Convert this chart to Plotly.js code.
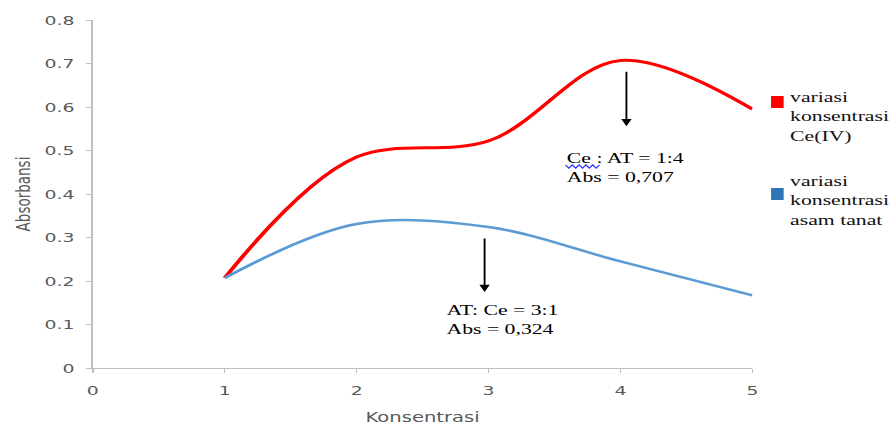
<!DOCTYPE html>
<html>
<head>
<meta charset="utf-8">
<script src="https://cdn.plot.ly/plotly-3.0.1.min.js"></script>
<style>
  html, body { margin: 0; padding: 0; background: #fff; overflow: hidden; }
  #wrap { width: 893px; height: 432px; overflow: hidden; }
  /* chart is laid out narrow and widened horizontally, giving the stretched look */
  #chart { width: 616px; height: 432px; transform: scaleX(1.4497); transform-origin: 0 0; }
</style>
</head>
<body>
<div id="wrap"><div id="chart"></div></div>
<script>
// Absorbance vs. concentration ratio
const konsentrasi = [1, 2, 3, 4, 5];
const absCe = [0.207, 0.485, 0.522, 0.707, 0.595];   // variasi konsentrasi Ce(IV)
const absAT = [0.207, 0.331, 0.324, 0.245, 0.167];   // variasi konsentrasi asam tanat
const xTicks = [0, 1, 2, 3, 4, 5];
const yTicks = [0, 0.1, 0.2, 0.3, 0.4, 0.5, 0.6, 0.7, 0.8];
const seriesNames = ['variasi<br>konsentrasi<br>Ce(IV)', 'variasi<br>konsentrasi<br>asam tanat'];
const peakCe = {x: 4, y: 0.707, label: 'Ce : AT = 1:4<br>Abs = 0,707'};
const peakAT = {x: 3, y: 0.324, label: 'AT: Ce = 3:1<br>Abs = 0,324'};

const RED = '#ff0000';
const BLUE = '#5b9bd5';
const serif = 'Liberation Serif, Times New Roman, serif';
const sans = 'DejaVu Sans, Arial, sans-serif';

const traces = [
  {x: konsentrasi, y: absCe, mode: 'lines', line: {color: RED, width: 3, shape: 'spline', smoothing: 1}, name: 'Ce(IV)', showlegend: false, hoverinfo: 'skip'},
  {x: konsentrasi, y: absAT, mode: 'lines', line: {color: BLUE, width: 2.5, shape: 'spline', smoothing: 1}, name: 'asam tanat', showlegend: false, hoverinfo: 'skip'}
];

const axisStyle = {
  showgrid: false, zeroline: false, showline: true, linecolor: '#bfbfbf', linewidth: 1,
  ticks: 'outside', ticklen: 4, tickcolor: '#bfbfbf', tickwidth: 1,
  tickfont: {family: sans, size: 13, color: '#595959'}
};

// wavy proofing underline under "Ce :"
let wave = '';
const wx0 = 0.7167, wx1 = 0.7682, wy = 0.579, amp = 0.0045, nSeg = 10;
for (let i = 0; i <= nSeg; i++) {
  const px = wx0 + (wx1 - wx0) * i / nSeg;
  const py = wy + (i % 2 === 0 ? amp : -amp);
  wave += (i === 0 ? 'M' : 'L') + px.toFixed(4) + ',' + py.toFixed(4);
}

const layout = {
  width: 616, height: 432,
  margin: {l: 63.5, r: 97.3, t: 20, b: 64},
  paper_bgcolor: '#fff', plot_bgcolor: '#fff',
  showlegend: false,
  xaxis: Object.assign({}, axisStyle, {
    range: [0, 5], tickvals: xTicks, ticktext: xTicks.map(String), ticklabelstandoff: 6,
    title: {text: 'Konsentrasi', font: {family: sans, size: 13.5, color: '#595959'}, standoff: 15}
  }),
  yaxis: Object.assign({}, axisStyle, {
    range: [0, 0.8], tickvals: yTicks, ticktext: yTicks.map(v => v === 0 ? '0' : v.toFixed(1)), ticklabelstandoff: 5,
    title: {text: 'Absorbansi', font: {family: sans, size: 13.5, color: '#595959'}, standoff: 6}
  }),
  shapes: [
    {type: 'rect', xref: 'paper', yref: 'paper', x0: 1.0283, x1: 1.0474, y0: 0.7471, y1: 0.7816, fillcolor: RED, line: {width: 0}},
    {type: 'rect', xref: 'paper', yref: 'paper', x0: 1.0283, x1: 1.0474, y0: 0.4828, y1: 0.5172, fillcolor: '#2e75b6', line: {width: 0}},
    {type: 'path', xref: 'paper', yref: 'paper', path: wave, line: {color: '#3333ff', width: 1}}
  ],
  annotations: [
    // arrows pointing at the peaks
    {x: 4.045, y: 0.556, xref: 'x', yref: 'y', showarrow: true, text: '', ax: 0, ay: -56,
     arrowhead: 2, arrowsize: 1.1, arrowwidth: 1.3, arrowcolor: '#000'},
    {x: 2.97, y: 0.175, xref: 'x', yref: 'y', showarrow: true, text: '', ax: 0, ay: -55,
     arrowhead: 2, arrowsize: 1.1, arrowwidth: 1.3, arrowcolor: '#000'},
    // peak labels
    {x: 3.575, y: 0.46, xref: 'x', yref: 'y', text: peakCe.label, showarrow: false,
     xanchor: 'left', yanchor: 'middle', align: 'left', font: {family: serif, size: 15, color: '#000'}},
    {x: 2.66, y: 0.110, xref: 'x', yref: 'y', text: peakAT.label, showarrow: false,
     xanchor: 'left', yanchor: 'middle', align: 'left', font: {family: serif, size: 15, color: '#000'}},
    // legend entries
    {x: 1.0525, y: 0.7213, xref: 'paper', yref: 'paper', text: seriesNames[0], showarrow: false,
     xanchor: 'left', yanchor: 'middle', align: 'left', font: {family: serif, size: 15, color: '#111'}},
    {x: 1.0525, y: 0.48, xref: 'paper', yref: 'paper', text: seriesNames[1], showarrow: false,
     xanchor: 'left', yanchor: 'middle', align: 'left', font: {family: serif, size: 15, color: '#111'}}
  ]
};

Plotly.newPlot('chart', traces, layout, {staticPlot: true, displayModeBar: false});
</script>
</body>
</html>
